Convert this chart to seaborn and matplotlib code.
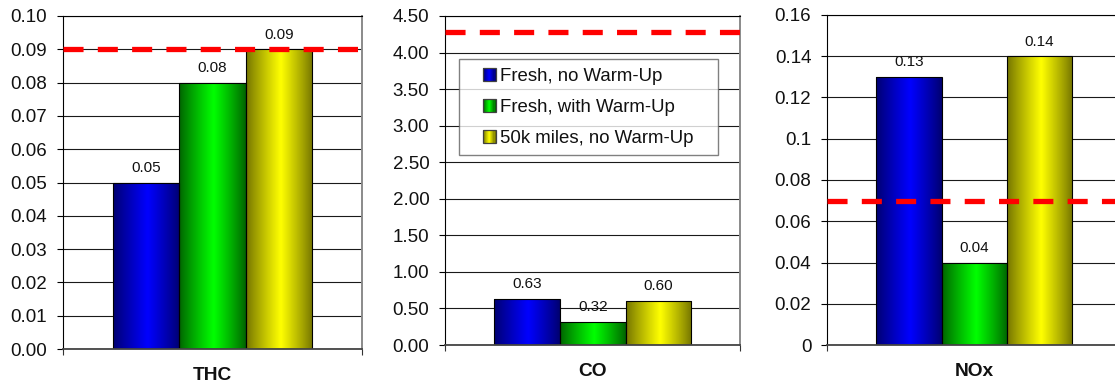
import numpy as np
import pandas as pd
import matplotlib
matplotlib.use("Agg")
import matplotlib.pyplot as plt
import seaborn as sns
from matplotlib.patches import Rectangle, Patch
from matplotlib.legend_handler import HandlerBase
from matplotlib.ticker import MultipleLocator, FuncFormatter

# ---------------- data ----------------
pollutants = ["THC", "CO", "NOx"]
conditions = ["Fresh, no Warm-Up", "Fresh, with Warm-Up", "50k miles, no Warm-Up"]
thc_values = [0.05, 0.08, 0.09]
co_values = [0.63, 0.32, 0.60]
nox_values = [0.13, 0.04, 0.14]
limits = [0.09, 4.28, 0.07]
y_max = [0.10, 4.50, 0.16]
y_step = [0.01, 0.50, 0.02]

values = [thc_values, co_values, nox_values]

# ---------------- style ----------------
sns.set_theme(style="white")
plt.rcParams["font.family"] = ["Liberation Sans", "DejaVu Sans"]

edge_cols = ["#000070", "#006400", "#747400"]
center_cols = ["#0000ff", "#00ff00", "#ffff00"]
mid_cols = ["#0000c0", "#00c000", "#c0c000"]


def grad_colors(i, n=64):
    e = np.array(matplotlib.colors.to_rgb(edge_cols[i]))
    c = np.array(matplotlib.colors.to_rgb(center_cols[i]))
    t = np.linspace(0, 1, n)
    peak = 0.52
    w = np.where(t < peak, t / peak, (1 - t) / (1 - peak))
    w = np.clip(w, 0, 1) ** 0.9
    return e[None, :] * (1 - w[:, None]) + c[None, :] * w[:, None]


W, H = 1115, 386
fig = plt.figure(figsize=(W / 100, H / 100), dpi=100)

# axes boxes in pixels: left, right, top, bottom
boxes = [(63, 362, 16, 349), (445.3, 740.3, 16, 345), (827.3, 1121.1, 15, 345)]
fmts = [lambda v, p: f"{v:.2f}", lambda v, p: f"{v:.2f}", lambda v, p: f"{v:g}"]

axes = []
for k, (l, r, t, b) in enumerate(boxes):
    ax = fig.add_axes([l / W, (H - b) / H, (r - l) / W, (b - t) / H])
    axes.append(ax)
    df = pd.DataFrame({"pollutant": [pollutants[k]] * 3,
                       "condition": conditions,
                       "value": values[k]})
    sns.barplot(data=df, x="pollutant", y="value", hue="condition",
                hue_order=conditions, palette=mid_cols, width=0.667,
                saturation=1, ax=ax, legend=False,
                edgecolor="black", linewidth=0.8, zorder=3)

    # gradient fills
    for ci, cont in enumerate(ax.containers):
        for patch in cont:
            x0, y0 = patch.get_x(), patch.get_y()
            pw, ph = patch.get_width(), patch.get_height()
            img = grad_colors(ci)[None, :, :]
            im = ax.imshow(img, extent=[x0, x0 + pw, y0, y0 + ph],
                           aspect="auto", interpolation="bilinear", zorder=3)
            im.set_clip_path(patch)
            patch.set_facecolor("none")
            patch.set_zorder(4)
        ax.bar_label(cont, fmt="%.2f", padding=5.5, fontsize=11,
                     color="#111111", zorder=6)

    ax.set_xlim(-0.5, 0.5)
    ax.set_ylim(0, y_max[k])
    ax.yaxis.set_major_locator(MultipleLocator(y_step[k]))
    ax.yaxis.set_major_formatter(FuncFormatter(fmts[k]))
    ax.yaxis.grid(True, color="#1a1a1a", linewidth=0.8, zorder=0)
    ax.set_axisbelow(True)

    # limit line
    ax.axhline(limits[k], color="#ff0000", linewidth=3.8,
               linestyle=(0, (3.8, 2.7)), zorder=5)

    ax.set_xlabel("")
    ax.set_ylabel("")
    ax.set_xticks([0])
    ax.set_xticklabels([pollutants[k]], fontsize=13.8, fontweight="bold",
                       color="#111111")
    ax.tick_params(axis="x", which="major", length=0, pad=13)
    ax.set_xticks([-0.5, 0.5], minor=True)
    ax.tick_params(axis="x", which="minor", length=4.3, width=0.8,
                   color="#333333", direction="out", bottom=True)
    ax.tick_params(axis="y", which="major", length=4.3, width=0.8,
                   color="black", direction="out", pad=7.2,
                   labelsize=13.5, labelcolor="#111111", left=True)

    for s in ["left", "top"]:
        ax.spines[s].set_visible(True)
        ax.spines[s].set_color("black")
        ax.spines[s].set_linewidth(0.8)
    ax.spines["right"].set_visible(True)
    ax.spines["right"].set_color("#8a8a8a")
    ax.spines["right"].set_linewidth(1.4)
    ax.spines["bottom"].set_visible(True)
    ax.spines["bottom"].set_color("#444444")
    ax.spines["bottom"].set_linewidth(1.3)
    ax.spines["bottom"].set_zorder(5)


# ---------------- legend ----------------
class GradHandler(HandlerBase):
    def __init__(self, idx):
        super().__init__()
        self.idx = idx

    def create_artists(self, legend, orig_handle, xdescent, ydescent,
                       width, height, fontsize, trans):
        s = height * 1.0
        x0 = -xdescent + width - s
        y0 = -ydescent + (height - s) / 2
        cols = grad_colors(self.idx, 12)
        n = len(cols)
        arts = []
        for j, c in enumerate(cols):
            r = Rectangle((x0 + j * s / n, y0), s / n + 0.3, s,
                          facecolor=c, edgecolor="none", transform=trans)
            arts.append(r)
        frame = Rectangle((x0, y0), s, s, facecolor="none",
                          edgecolor="#404040", linewidth=0.9, transform=trans)
        arts.append(frame)
        return arts


handles = [Patch(label=c) for c in conditions]
hmap = {h: GradHandler(i) for i, h in enumerate(handles)}
lx0, lx1, ly0, ly1 = 459.3, 718.3, 59.3, 154
leg = axes[1].legend(handles=handles, labels=conditions, handler_map=hmap,
                     loc="upper left",
                     bbox_to_anchor=(lx0 / W, 1 - ly1 / H, (lx1 - lx0) / W, (ly1 - ly0) / H),
                     bbox_transform=fig.transFigure, mode="expand",
                     fontsize=13.4, frameon=True, fancybox=False,
                     borderpad=0.45, labelspacing=0.75, handlelength=1.5,
                     handleheight=0.7, handletextpad=0.25, borderaxespad=0)
leg.get_frame().set_edgecolor("#606060")
leg.get_frame().set_linewidth(1.0)
leg.get_frame().set_facecolor("white")
leg.set_zorder(10)
for t in leg.get_texts():
    t.set_color("#111111")

fig.savefig("out.png", dpi=100)
